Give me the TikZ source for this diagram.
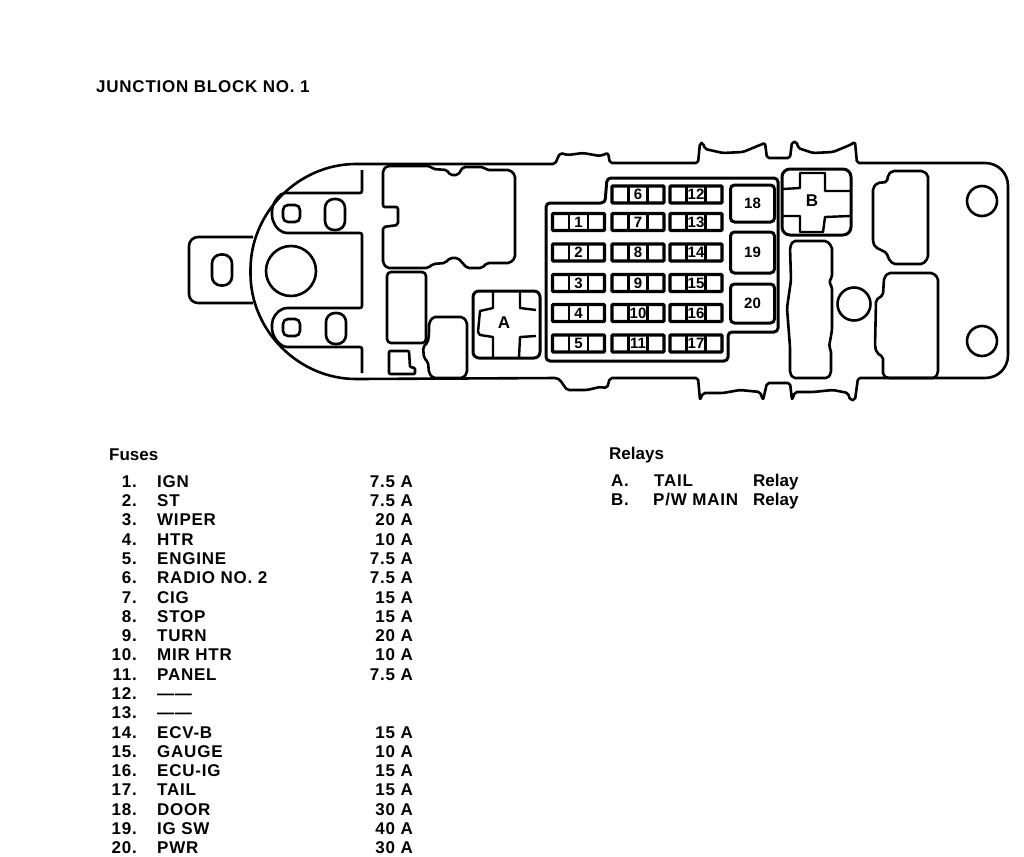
\documentclass[tikz,border=0pt]{standalone}
\usepackage{fontspec}
\setmainfont{Liberation Sans}
\newfontfamily\capsfont[LetterSpace=4.5]{Liberation Sans}
\usetikzlibrary{arrows,shapes}
\tikzstyle{outline}=[draw,line width=2.6pt,rounded corners=2pt,line join=round]
\tikzstyle{thinline}=[draw,line width=2.4pt,line join=round]
\tikzstyle{fuse}=[draw,line width=3.4pt,rounded corners=1pt,minimum width=52pt,minimum height=17pt,inner sep=0pt,font=\fontsize{15}{15}\selectfont\bfseries,
  path picture={\draw[line width=2.4pt] ([xshift=-9.5pt]path picture bounding box.north) -- ([xshift=-9.5pt]path picture bounding box.south);
                \draw[line width=2.4pt] ([xshift=9.5pt]path picture bounding box.north) -- ([xshift=9.5pt]path picture bounding box.south);}]
\tikzstyle{bigfuse}=[draw,line width=3pt,rounded corners=4pt,inner sep=0pt,minimum width=44pt,font=\fontsize{15}{15}\selectfont\bfseries]
\tikzstyle{hole}=[draw,circle,line width=2.6pt,inner sep=0pt]
\tikzstyle{slot}=[draw,line width=2.6pt,rounded corners=9pt,inner sep=0pt,minimum width=20pt,minimum height=31pt]
\tikzstyle{stud}=[draw,line width=2.6pt,rounded corners=5pt,inner sep=0pt,minimum size=17pt]
\tikzstyle{txt}=[inner sep=0pt,font=\fontsize{17}{17}\selectfont\bfseries]
\tikzstyle{lft}=[txt,anchor=base west]
\tikzstyle{caps}=[txt,anchor=base west,font=\fontsize{17}{17}\capsfont\bfseries]
\tikzstyle{rgt}=[txt,anchor=base east,font=\fontsize{17}{17}\capsfont\bfseries]

\begin{document}
\begin{tikzpicture}[x=1pt,y=-1pt]
    \useasboundingbox (0,0) rectangle (1024,856);

    % block outline
    \path[outline] (450,164) -- (555,164) -- (560,153) -- (568,155) -- (583,153) -- (600,156) -- (608,153) -- (610,163) -- (698,163)
        -- (700,143) -- (703,143) -- (705,149) -- (723,153) -- (743,152) -- (760,145) -- (765,143) -- (767,158) -- (790,158) -- (792,142)
        -- (797,142) -- (798,148) -- (813,153) -- (833,152) -- (850,145) -- (855,142) -- (857,163) -- (983,163)
        .. controls (998,163) and (1008,173) .. (1008,188) -- (1008,353) .. controls (1008,368) and (998,378) .. (983,378)
        -- (858,378) -- (855,400) -- (850,400) -- (848,393) -- (833,390) -- (813,392) -- (795,392) -- (792,400) -- (790,383)
        -- (767,383) -- (763,400) -- (760,392) -- (740,390) -- (723,393) -- (703,393) -- (700,400) -- (698,378)
        -- (610,378) -- (607,388) -- (600,387) -- (587,390) -- (567,390) -- (560,380) -- (557,378) -- (358,379)
        .. controls (299,379) and (250.5,331) .. (250.5,271.5) .. controls (250.5,212) and (299,164) .. (358,164) -- cycle;

    % left tab
    \path[outline,rounded corners=9pt] (253,237) -- (189,237) -- (189,303) -- (253,303);
    \node[slot] (tabslot) at (222,270) {};
    \node[hole,minimum size=50pt] (bighole) at (291,271) {};

    % left channels
    \path[outline] (362,170) -- (362,193) -- (283,193) .. controls (276,198) and (272,205) .. (272,213) .. controls (272,222) and (277,230) .. (285,233)
        -- (362,233) -- (362,308) -- (285,308) .. controls (277,311) and (272,318) .. (272,326) .. controls (272,335) and (277,343) .. (285,347)
        -- (362,347) -- (362,373);
    \node[stud] (stud1) at (291.5,213.5) {};
    \node[stud] (stud2) at (291.5,327.5) {};
    \node[slot] (slot1) at (335,214.5) {};
    \node[slot] (slot2) at (336,328.5) {};

    % connectors on the left
    \path[outline] (387,166) -- (430,166) -- (433,169) -- (447,170) -- (450,175) -- (458,175) -- (463,167) -- (483,167) -- (487,170) -- (510,170)
        -- (515,175) -- (515,258) -- (510,263) -- (487,263) -- (482,268) -- (467,268) -- (458,258) -- (450,258) -- (445,263) -- (433,264) -- (428,268)
        -- (387,268) -- (383,263) -- (383,227) -- (398,225) -- (398,207) -- (383,207) -- (383,170) -- cycle;
    \path[outline,rounded corners=4pt] (387,272) rectangle (426,343);
    \path[outline] (433,317) -- (463,317) -- (467,322) -- (467,373) -- (463,378) -- (433,378) -- (429,373) -- (428,362) -- (424,358) -- (423,347)
        -- (428,342) -- (429,333) -- (429,323) -- cycle;
    \path[outline,rounded corners=1pt] (389,351) -- (409,351) -- (410,367) -- (415,368) -- (415,374) -- (389,374) -- cycle;

    % relay A
    \path[outline,rounded corners=6pt,line width=3pt] (473,291) rectangle (540,358);
    \path[thinline] (493,292) -- (493,308) -- (480,311) -- (478,332) -- (480,335) -- (493,337) -- (493,358);
    \path[thinline] (520,292) -- (520,308) -- (536,310);
    \path[thinline] (536,336) -- (520,337) -- (519,358);
    \node[txt] (relayA) at (504,323) {A};

    % fuse panel
    \path[outline,line width=3pt,rounded corners=4pt] (607,178) -- (778,178) -- (778,332) -- (728,332) -- (728,361) -- (546,361) -- (546,203) -- (605,203) -- cycle;

    \node[fuse] (f1) at (578.5,222) {1};
    \node[fuse] (f2) at (578.5,252.5) {2};
    \node[fuse] (f3) at (578.5,283) {3};
    \node[fuse] (f4) at (578.5,313) {4};
    \node[fuse] (f5) at (578.5,343.5) {5};
    \node[fuse] (f6) at (638,194.5) {6};
    \node[fuse] (f7) at (638,222) {7};
    \node[fuse] (f8) at (638,252.5) {8};
    \node[fuse] (f9) at (638,283) {9};
    \node[fuse] (f10) at (638,313) {10};
    \node[fuse] (f11) at (638,343.5) {11};
    \node[fuse] (f12) at (696,194.5) {12};
    \node[fuse] (f13) at (696,222) {13};
    \node[fuse] (f14) at (696,252.5) {14};
    \node[fuse] (f15) at (696,283) {15};
    \node[fuse] (f16) at (696,313) {16};
    \node[fuse] (f17) at (696,343.5) {17};
    \node[bigfuse,minimum height=37pt] (f18) at (752.5,203.5) {18};
    \node[bigfuse,minimum height=41pt] (f19) at (752.5,252.5) {19};
    \node[bigfuse,minimum height=39pt] (f20) at (752.5,303.5) {20};

    % relay B
    \path[outline,rounded corners=8pt,line width=3pt] (782,169) rectangle (851,235);
    \path[thinline] (783,189) -- (800,188) -- (800,173) -- (825,173) -- (825,191) -- (850,191);
    \path[thinline] (783,216) -- (800,216) -- (800,232) -- (823,232) -- (825,217) -- (850,216);
    \node[txt] (relayB) at (812,201) {B};

    % connectors on the right
    \path[outline] (793,241) -- (827,241) -- (832,247) -- (832,277) -- (829,282) -- (832,287) -- (832,330) -- (829,347) -- (831,350) -- (831,373)
        -- (828,378) -- (793,378) -- (790,373) -- (790,347) -- (787,308) -- (791,280) -- (790,247) -- cycle;
    \node[hole,minimum size=33pt] (midhole) at (854,304) {};
    \path[outline] (892,171) -- (923,171) -- (928,175) -- (928,258) -- (923,264) -- (893,264) -- (888,258) -- (887,253) -- (875,247) -- (873,242)
        -- (873,188) -- (877,183) -- (887,182) -- (888,175) -- cycle;
    \path[outline] (888,273) -- (933,273) -- (938,278) -- (938,373) -- (935,378) -- (887,378) -- (883,375) -- (883,357) -- (877,353) -- (875,347)
        -- (876,300) -- (883,295) -- (884,278) -- cycle;
    \node[hole,minimum size=30pt] (hole1) at (982,201) {};
    \node[hole,minimum size=30pt] (hole2) at (982,341) {};

    % texts
    \node[caps] (title) at (96,93) {JUNCTION BLOCK NO. 1};
    \node[lft] (fuses) at (109,460) {Fuses};
    \node[lft] (relays) at (609,459) {Relays};
    \node[caps] (ra) at (611,486) {A.};
    \node[caps] (rat) at (654,486) {TAIL};
    \node[lft] (rar) at (753,486) {Relay};
    \node[caps] (rb) at (611,505) {B.};
    \node[caps] (rbt) at (653,505) {P/W MAIN};
    \node[lft] (rbr) at (753,505) {Relay};

    \node[rgt] (n1) at (137,487) {1.}; \node[caps] (l1) at (157,487) {IGN}; \node[rgt] (a1) at (413,487) {7.5 A};
    \node[rgt] (n2) at (137,506) {2.}; \node[caps] (l2) at (157,506) {ST}; \node[rgt] (a2) at (413,506) {7.5 A};
    \node[rgt] (n3) at (137,525.5) {3.}; \node[caps] (l3) at (157,525.5) {WIPER}; \node[rgt] (a3) at (413,525.5) {20 A};
    \node[rgt] (n4) at (137,545) {4.}; \node[caps] (l4) at (157,545) {HTR}; \node[rgt] (a4) at (413,545) {10 A};
    \node[rgt] (n5) at (137,564) {5.}; \node[caps] (l5) at (157,564) {ENGINE}; \node[rgt] (a5) at (413,564) {7.5 A};
    \node[rgt] (n6) at (137,583.5) {6.}; \node[caps] (l6) at (157,583.5) {RADIO NO. 2}; \node[rgt] (a6) at (413,583.5) {7.5 A};
    \node[rgt] (n7) at (137,603) {7.}; \node[caps] (l7) at (157,603) {CIG}; \node[rgt] (a7) at (413,603) {15 A};
    \node[rgt] (n8) at (137,622) {8.}; \node[caps] (l8) at (157,622) {STOP}; \node[rgt] (a8) at (413,622) {15 A};
    \node[rgt] (n9) at (137,641) {9.}; \node[caps] (l9) at (157,641) {TURN}; \node[rgt] (a9) at (413,641) {20 A};
    \node[rgt] (n10) at (137,660.5) {10.}; \node[caps] (l10) at (157,660.5) {MIR HTR}; \node[rgt] (a10) at (413,660.5) {10 A};
    \node[rgt] (n11) at (137,680) {11.}; \node[caps] (l11) at (157,680) {PANEL}; \node[rgt] (a11) at (413,680) {7.5 A};
    \node[rgt] (n12) at (137,699) {12.}; \node[caps] (l12) at (157,699) {——};
    \node[rgt] (n13) at (137,718.5) {13.}; \node[caps] (l13) at (157,718.5) {——};
    \node[rgt] (n14) at (137,738) {14.}; \node[caps] (l14) at (157,738) {ECV-B}; \node[rgt] (a14) at (413,738) {15 A};
    \node[rgt] (n15) at (137,757) {15.}; \node[caps] (l15) at (157,757) {GAUGE}; \node[rgt] (a15) at (413,757) {10 A};
    \node[rgt] (n16) at (137,776.5) {16.}; \node[caps] (l16) at (157,776.5) {ECU-IG}; \node[rgt] (a16) at (413,776.5) {15 A};
    \node[rgt] (n17) at (137,795.5) {17.}; \node[caps] (l17) at (157,795.5) {TAIL}; \node[rgt] (a17) at (413,795.5) {15 A};
    \node[rgt] (n18) at (137,815) {18.}; \node[caps] (l18) at (157,815) {DOOR}; \node[rgt] (a18) at (413,815) {30 A};
    \node[rgt] (n19) at (137,834) {19.}; \node[caps] (l19) at (157,834) {IG SW}; \node[rgt] (a19) at (413,834) {40 A};
    \node[rgt] (n20) at (137,853) {20.}; \node[caps] (l20) at (157,853) {PWR}; \node[rgt] (a20) at (413,853) {30 A};
\end{tikzpicture}
\end{document}
